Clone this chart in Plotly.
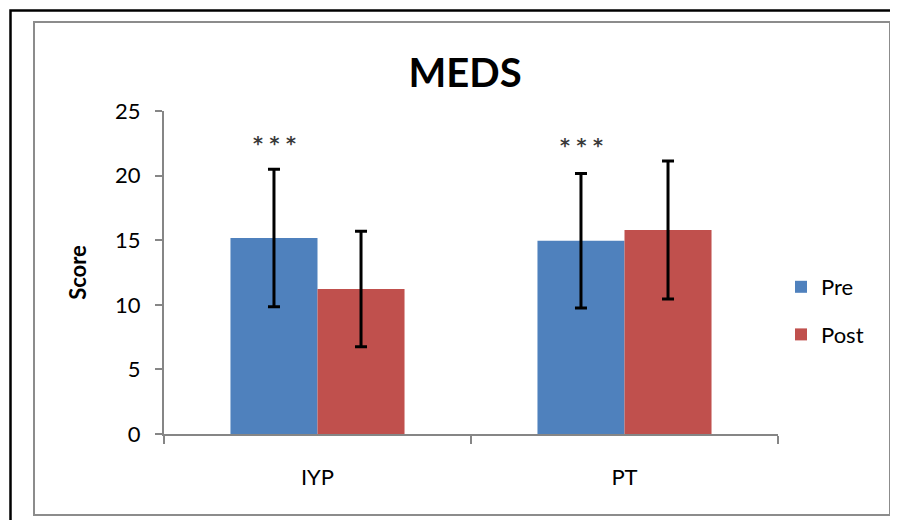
import plotly.graph_objects as go

categories = ["IYP", "PT"]
pre_mean = [15.17, 14.96]
pre_sd = [5.33, 5.2]
post_mean = [11.22, 15.79]
post_sd = [4.47, 5.34]
y_ticks = [0, 5, 10, 15, 20, 25]
sig_labels = ["* * *", "* * *"]

OFF = 8  # page body margin
W, H = 898 - OFF, 520 - OFF
L, R, T, B = 164 - OFF, 898 - 778, 111 - OFF, 520 - 434

pw, ph = W - L - R, H - T - B

def px(x):
    return (x - OFF - L) / pw

def py(y):
    return 1 - (y - OFF - T) / ph

font_family = "Lato, 'Noto Sans', sans-serif"

fig = go.Figure()
fig.add_trace(go.Bar(
    x=categories, y=pre_mean, name="Pre", marker_color="#4F81BD",
    marker_line_width=0, legendgroup="pre",
    error_y=dict(type="data", array=pre_sd, visible=True, color="black",
                 thickness=3, width=6),
))
fig.add_trace(go.Bar(
    x=categories, y=post_mean, name="Post", marker_color="#C0504D",
    marker_line_width=0, legendgroup="post",
    error_y=dict(type="data", array=post_sd, visible=True, color="black",
                 thickness=3, width=6),
))

annotations = []
for i, (c, lab) in enumerate(zip(categories, sig_labels)):
    annotations.append(dict(
        x=c, y=22.55 if i == 0 else 22.35, xref="x", yref="y",
        text="<b>" + lab + "</b>",
        showarrow=False, xshift=-43, yanchor="middle",
        font=dict(size=19, color="#3a3a3a", family="DejaVu Sans"),
    ))

shapes = [
    # outer black frame (top & left visible)
    dict(type="rect", xref="paper", yref="paper",
         x0=px(10.5), x1=px(920), y0=py(10.5), y1=py(540),
         line=dict(color="black", width=2.5)),
    # inner grey frame
    dict(type="rect", xref="paper", yref="paper",
         x0=px(34), x1=px(890), y0=py(22), y1=py(515),
         line=dict(color="#8c8c8c", width=2)),
]

fig.update_layout(
    width=W, height=H,
    margin=dict(l=L, r=R, t=T, b=B, autoexpand=False),
    paper_bgcolor="white", plot_bgcolor="white",
    barmode="group", bargap=0.433, bargroupgap=0,
    title=dict(text="<b>MEDS</b>", xref="container", yref="container",
               x=(465 - OFF) / W, xanchor="center",
               y=1 - (73 - OFF) / H, yanchor="middle",
               font=dict(size=40, color="black", family=font_family)),
    font=dict(family=font_family, color="black", size=22),
    xaxis=dict(
        range=[-0.5, 1.5], showline=True, linecolor="#868686", linewidth=2,
        ticks="outside", tickson="boundaries", ticklen=8, tickwidth=2,
        tickcolor="#868686", showgrid=False, zeroline=False,
        tickfont=dict(size=22, color="black"), ticklabelstandoff=23,
    ),
    yaxis=dict(
        range=[0, 25], tickvals=y_ticks, showline=True, linecolor="#868686",
        linewidth=2, ticks="outside", ticklen=7, tickwidth=2,
        tickcolor="#868686", showgrid=False, zeroline=False,
        tickfont=dict(size=22, color="black"), ticklabelstandoff=10,
        title=dict(text="<b>Score</b>", font=dict(size=22, color="black"),
                   standoff=22),
    ),
    legend=dict(
        x=px(781), y=py(266), xanchor="left", yanchor="top",
        font=dict(size=22, color="black"), tracegroupgap=16,
        itemwidth=30, bgcolor="rgba(0,0,0,0)",
    ),
    annotations=annotations,
    shapes=shapes,
)

fig.write_html("out.html")
